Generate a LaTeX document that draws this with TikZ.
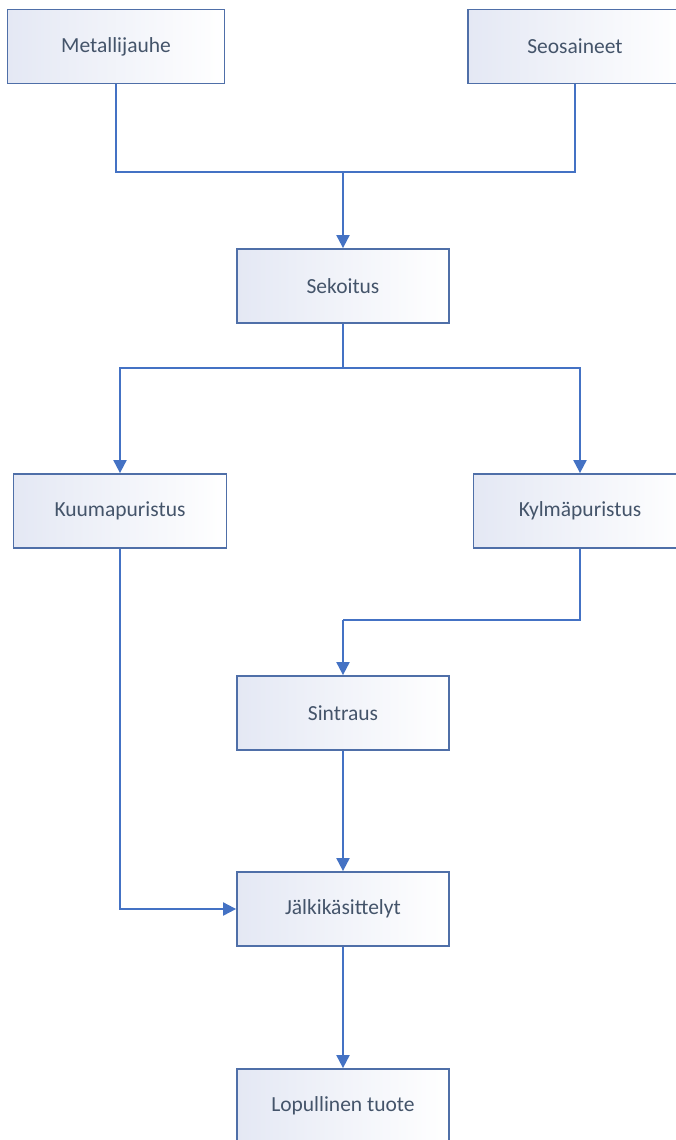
\documentclass[tikz,border=0pt]{standalone}
\usepackage{fontspec}
\setmainfont{Carlito}
\usetikzlibrary{arrows.meta}
\definecolor{linec}{HTML}{4472C4}
\definecolor{boxline}{HTML}{4F6FA8}
\definecolor{boxfill}{HTML}{E4E8F4}
\definecolor{textc}{HTML}{44546A}
\tikzset{
  procbox/.style={draw=boxline, line width=1.8pt, left color=boxfill, right color=white,
    minimum height=74pt, minimum width=213pt, inner sep=0pt, text=textc,
    font=\fontsize{21.5}{25}\selectfont},
  conn/.style={draw=linec, line width=2pt},
  arr/.style={conn, -{Triangle[width=13pt,length=13pt]}}
}
\begin{document}
\begin{tikzpicture}[x=1pt,y=-1pt]
\useasboundingbox (0,0) rectangle (676,1140);
\fill[white] (0,0) rectangle (676,1140);
\clip (0,0) rectangle (676,1140);
\node[procbox, minimum width=217pt] (met) at (116,46.5) {Metallijauhe};
\node[procbox, minimum width=214pt] (seo) at (575,46.5) {Seosaineet};
\node[procbox, minimum width=212pt] (sek) at (343,286) {Sekoitus};
\node[procbox] (kuu) at (120,511) {Kuumapuristus};
\node[procbox] (kyl) at (580,511) {Kylmäpuristus};
\node[procbox, minimum width=212pt] (sin) at (343,713) {Sintraus};
\node[procbox, minimum width=212pt] (jal) at (343,909) {Jälkikäsittelyt};
\node[procbox, minimum width=212pt] (lop) at (343,1106) {Lopullinen tuote};
\coordinate (j1) at (343,172);
\coordinate (j2) at (343,368);
\coordinate (j3) at (343,620);
\draw[conn] (met.south) |- (j1);
\draw[conn] (seo.south) |- (j1);
\draw[arr] (j1) -- (sek.north);
\draw[conn] (sek.south) -- (j2);
\draw[arr] (j2) -| (kuu.north);
\draw[arr] (j2) -| (kyl.north);
\draw[conn] (kyl.south) |- (j3);
\draw[arr] (j3) -- (sin.north);
\draw[arr] (sin.south) -- (jal.north);
\draw[arr] (kuu.south) |- (jal.west);
\draw[arr] (jal.south) -- (lop.north);
\end{tikzpicture}
\end{document}
